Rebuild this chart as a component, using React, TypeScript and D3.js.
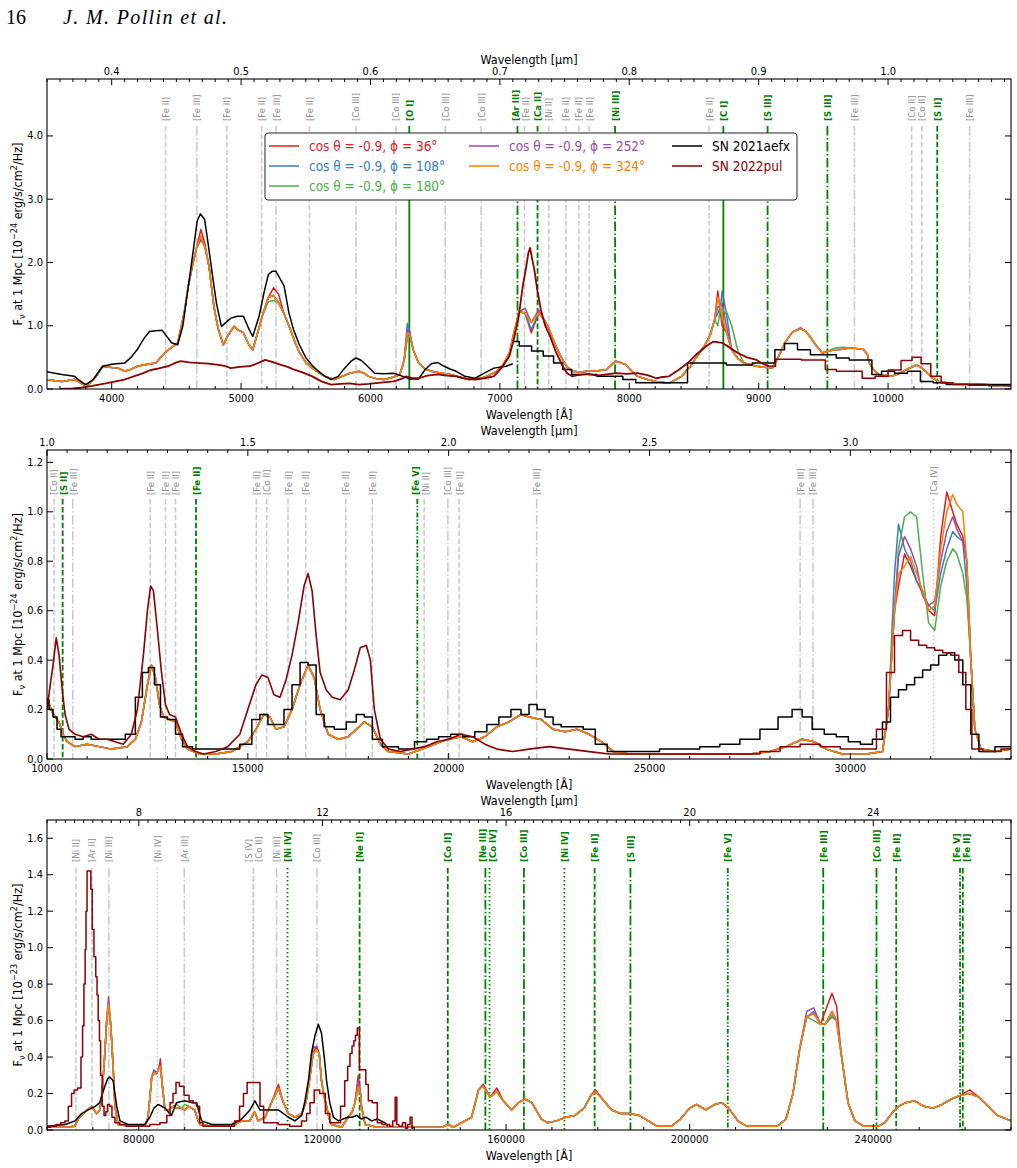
import React from 'react'
import * as d3 from 'd3'

type Pt = [number, number]
type LineId = [number, string, number]

const FONT = "'DejaVu Sans Condensed', 'DejaVu Sans', sans-serif"

const modelLabels = [
  'cos θ = -0.9, ϕ = 36°',
  'cos θ = -0.9, ϕ = 108°',
  'cos θ = -0.9, ϕ = 180°',
  'cos θ = -0.9, ϕ = 252°',
  'cos θ = -0.9, ϕ = 324°',
]
const modelColors = ['#e41a1c', '#377eb8', '#4daf4a', '#984ea3', '#ff7f00']
const obsLabels = ['SN 2021aefx', 'SN 2022pul']
const obsColors = ['#000000', '#8b0000']

// ---------- optical, Å vs 1e-24 erg/s/cm2/Hz ----------
// phi = 324 model, the others differ from it only around the listed peaks
const optModel: Pt[] = [
  [3480, 0.15], [3615, 0.12], [3712, 0.15], [3809, 0.04], [3880, 0.2], [3930, 0.36], [4000, 0.34], [4051, 0.33],
  [4100, 0.28], [4147, 0.31], [4200, 0.36], [4244, 0.38], [4300, 0.4], [4341, 0.41], [4400, 0.55], [4437, 0.62],
  [4510, 0.73], [4560, 1.2], [4592, 1.63], [4630, 2.0], [4655, 2.23], [4689, 2.42], [4720, 2.25], [4752, 1.94],
  [4790, 1.3], [4824, 0.94], [4863, 0.7], [4900, 0.85], [4945, 0.99], [4980, 0.93], [5018, 0.89], [5060, 0.7],
  [5090, 0.62], [5130, 0.9], [5163, 1.15], [5211, 1.45], [5250, 1.48], [5290, 1.36], [5330, 1.2], [5381, 0.94],
  [5420, 0.72], [5453, 0.57], [5500, 0.42], [5550, 0.33], [5600, 0.26], [5647, 0.2], [5719, 0.15], [5780, 0.2],
  [5840, 0.25], [5912, 0.28], [5950, 0.25], [5985, 0.2], [6050, 0.16], [6106, 0.15], [6180, 0.19], [6227, 0.23],
  [6260, 0.45], [6285, 0.89], [6305, 0.85], [6330, 0.62], [6372, 0.41], [6420, 0.32], [6469, 0.28], [6550, 0.25],
  [6614, 0.23], [6690, 0.19], [6759, 0.15], [6856, 0.17], [6920, 0.22], [6977, 0.28], [7030, 0.4], [7074, 0.57],
  [7110, 0.9], [7150, 1.22], [7194, 1.2], [7243, 1.05], [7300, 1.2], [7340, 1.1], [7380, 0.95], [7412, 0.78],
  [7450, 0.6], [7485, 0.46], [7520, 0.35], [7557, 0.28], [7620, 0.27], [7678, 0.28], [7760, 0.29], [7823, 0.31],
  [7896, 0.44], [7930, 0.42], [7968, 0.39], [8020, 0.28], [8065, 0.2], [8140, 0.15], [8210, 0.12], [8307, 0.09],
  [8404, 0.2], [8470, 0.35], [8525, 0.52], [8580, 0.68], [8622, 0.83], [8660, 1.1], [8684, 1.45], [8705, 1.3],
  [8718, 1.15], [8750, 0.9], [8791, 0.62], [8840, 0.48], [8887, 0.41], [8984, 0.36], [9105, 0.33], [9150, 0.5],
  [9202, 0.73], [9260, 0.9], [9323, 0.95], [9360, 0.92], [9395, 0.83], [9440, 0.7], [9492, 0.57], [9540, 0.6],
  [9589, 0.62], [9650, 0.63], [9710, 0.65], [9807, 0.63], [9840, 0.55], [9855, 0.41], [9890, 0.3], [9927, 0.23],
  [10024, 0.2], [10090, 0.25], [10145, 0.31], [10218, 0.38], [10250, 0.35], [10290, 0.28], [10340, 0.18],
  [10387, 0.12], [10532, 0.08], [10726, 0.07], [11000, 0.05],
]
const optRed: Pt[] = [[4689, 2.52], [4720, 2.3], [5250, 1.6], [5290, 1.5], [6285, 0.85], [7243, 0.89], [8684, 1.55], [8705, 1.2], [8718, 1.0]]
const optBlue: Pt[] = [[6285, 1.04], [6305, 0.9], [7243, 0.94], [8684, 1.2], [8718, 1.55], [8750, 1.2]]
const optGreen: Pt[] = [[4689, 2.35], [5211, 1.38], [5250, 1.4], [6285, 0.8], [8684, 1.0], [8718, 1.1], [8750, 1.23], [8791, 1.0], [8840, 0.6], [9589, 0.65], [9650, 0.66]]
const optPurple: Pt[] = [[4689, 2.38], [6285, 0.95], [7194, 1.28], [7300, 1.25], [8684, 1.3], [8718, 1.35], [8750, 1.0], [9323, 0.97]]

const optAefx: Pt[] = [
  [3480, 0.28], [3560, 0.25], [3615, 0.23], [3712, 0.2], [3760, 0.12], [3800, 0.07], [3857, 0.15], [3930, 0.36],
  [4000, 0.39], [4099, 0.41], [4150, 0.5], [4196, 0.62], [4250, 0.8], [4292, 0.91], [4340, 0.92], [4389, 0.93],
  [4430, 0.82], [4462, 0.73], [4510, 0.7], [4550, 1.0], [4582, 1.47], [4631, 2.2], [4660, 2.65], [4685, 2.77],
  [4718, 2.68], [4745, 2.3], [4776, 1.84], [4810, 1.35], [4848, 0.99], [4921, 1.12], [4970, 1.15], [5018, 1.15],
  [5060, 0.95], [5090, 0.83], [5139, 1.15], [5180, 1.55], [5211, 1.81], [5240, 1.86], [5269, 1.86], [5300, 1.75],
  [5332, 1.63], [5370, 1.2], [5405, 0.94], [5450, 0.7], [5502, 0.49], [5550, 0.37], [5598, 0.28], [5650, 0.2],
  [5695, 0.15], [5750, 0.2], [5792, 0.31], [5850, 0.44], [5888, 0.49], [5930, 0.45], [5961, 0.39], [6033, 0.25],
  [6100, 0.24], [6179, 0.25], [6251, 0.2], [6300, 0.16], [6372, 0.16], [6420, 0.3], [6470, 0.4], [6517, 0.42],
  [6560, 0.37], [6610, 0.32], [6662, 0.28], [6730, 0.2], [6807, 0.17], [6880, 0.25], [6953, 0.33], [7049, 0.36],
  [7100, 0.4],
]
const optAefxBinned: Pt[] = [
  [7100, 0.75], [7200, 0.68], [7290, 0.6], [7380, 0.52], [7450, 0.41], [7520, 0.31], [7590, 0.23], [7700, 0.23],
  [7800, 0.2], [7900, 0.2], [8000, 0.15], [8100, 0.1], [8200, 0.1], [8300, 0.1], [8400, 0.1], [8500, 0.41],
  [8600, 0.41], [8700, 0.41], [8800, 0.38], [8900, 0.38], [9000, 0.41], [9100, 0.41], [9150, 0.62], [9250, 0.72],
  [9350, 0.62], [9450, 0.54], [9550, 0.54], [9650, 0.49], [9750, 0.46], [9850, 0.46], [9900, 0.23], [10000, 0.28],
  [10100, 0.25], [10200, 0.28], [10300, 0.12], [10400, 0.1], [10500, 0.07], [10700, 0.07], [11000, 0.07],
]
const optPul: Pt[] = [
  [3600, 0.0], [3700, 0.01], [3760, 0.02], [3850, 0.05], [3954, 0.09], [4030, 0.12], [4099, 0.15], [4170, 0.2],
  [4244, 0.25], [4300, 0.3], [4350, 0.32], [4437, 0.36], [4500, 0.42], [4534, 0.44], [4600, 0.42], [4679, 0.41],
  [4750, 0.4], [4824, 0.38], [4880, 0.36], [4921, 0.33], [4990, 0.35], [5066, 0.36], [5120, 0.4], [5187, 0.46],
  [5240, 0.43], [5308, 0.38], [5360, 0.35], [5405, 0.31], [5480, 0.26], [5550, 0.2], [5620, 0.12], [5695, 0.07],
  [5770, 0.08], [5840, 0.09], [5910, 0.07], [5985, 0.08], [6080, 0.1], [6179, 0.12], [6240, 0.16], [6276, 0.2],
  [6330, 0.17], [6372, 0.17], [6440, 0.21], [6517, 0.23], [6590, 0.21], [6662, 0.2], [6740, 0.16], [6807, 0.15],
  [6880, 0.17], [6953, 0.2], [7020, 0.35], [7074, 0.52], [7110, 0.8], [7146, 1.15], [7175, 1.6], [7204, 1.94],
  [7220, 2.15], [7233, 2.23], [7250, 2.05], [7267, 1.88], [7290, 1.55], [7316, 1.26], [7350, 1.0], [7388, 0.83],
  [7430, 0.6], [7485, 0.36], [7520, 0.25], [7557, 0.2], [7600, 0.22], [7680, 0.24], [7750, 0.21], [7823, 0.23],
  [7900, 0.25], [7980, 0.24], [8065, 0.25], [8140, 0.22], [8210, 0.17], [8260, 0.19], [8307, 0.2], [8380, 0.3],
  [8452, 0.41], [8520, 0.55], [8597, 0.68], [8650, 0.75], [8718, 0.73], [8780, 0.65], [8839, 0.57], [8910, 0.5],
  [8984, 0.46], [9030, 0.4], [9081, 0.36],
]
const optPulBinned: Pt[] = [
  [9081, 0.36], [9180, 0.47], [9280, 0.47], [9380, 0.46], [9480, 0.46], [9550, 0.31], [9650, 0.28], [9750, 0.28],
  [9850, 0.17], [9950, 0.2], [10050, 0.3], [10150, 0.45], [10220, 0.5], [10290, 0.4], [10370, 0.2], [10450, 0.1],
  [10550, 0.07], [10700, 0.06], [10850, 0.05], [11000, 0.05],
]

// ---------- near infrared, Å vs 1e-24 ----------
const nirModel: Pt[] = [
  [10000, 0.25], [10100, 0.2], [10200, 0.17], [10300, 0.15], [10400, 0.1], [10500, 0.07], [10700, 0.05], [11000, 0.06],
  [11300, 0.05], [11600, 0.04], [12000, 0.05], [12200, 0.08], [12350, 0.15], [12500, 0.3], [12600, 0.38], [12700, 0.33],
  [12800, 0.22], [12900, 0.17], [13050, 0.16], [13200, 0.15], [13350, 0.08], [13500, 0.04], [13800, 0.02], [14200, 0.02],
  [14600, 0.03], [15000, 0.07], [15200, 0.12], [15400, 0.18], [15550, 0.17], [15700, 0.12], [15900, 0.13], [16100, 0.2],
  [16300, 0.3], [16500, 0.38], [16650, 0.33], [16800, 0.2], [17000, 0.1], [17250, 0.08], [17500, 0.09], [17700, 0.12],
  [17900, 0.15], [18100, 0.13], [18300, 0.06], [18500, 0.03], [19000, 0.02], [19500, 0.05], [19800, 0.07], [20000, 0.08],
  [20300, 0.09], [20600, 0.07], [20900, 0.09], [21200, 0.13], [21500, 0.15], [21800, 0.18], [22000, 0.17], [22300, 0.16],
  [22600, 0.12], [22900, 0.11], [23200, 0.12], [23500, 0.1], [23800, 0.07], [24100, 0.03], [24500, 0.02], [26000, 0.02],
  [27500, 0.02], [28000, 0.03], [28400, 0.05], [28800, 0.08], [29100, 0.07], [29400, 0.04], [29800, 0.02], [30400, 0.02],
  [30800, 0.03], [30950, 0.2], [31100, 0.6], [31200, 0.75], [31350, 0.78], [31500, 0.82], [31650, 0.75], [31800, 0.68],
  [31950, 0.6], [32100, 0.62], [32250, 0.85], [32400, 1.0], [32550, 1.07], [32650, 1.03], [32800, 1.0], [32900, 0.8],
  [33000, 0.4], [33100, 0.12], [33250, 0.04], [33600, 0.03], [34000, 0.04],
]
const nirRed: Pt[] = [[31200, 0.7], [31350, 0.83], [31500, 0.78], [31650, 0.72], [31800, 0.67], [31950, 0.6], [32100, 0.58], [32250, 0.9], [32400, 1.08], [32550, 1.0], [32650, 0.95], [32800, 0.9]]
const nirBlue: Pt[] = [[31100, 0.75], [31200, 0.95], [31350, 0.85], [31500, 0.8], [31650, 0.72], [31800, 0.68], [31950, 0.62], [32100, 0.6], [32250, 0.75], [32400, 0.85], [32550, 0.92], [32650, 0.9], [32800, 0.88], [32900, 0.7]]
const nirGreen: Pt[] = [[31200, 0.85], [31350, 0.98], [31500, 1.0], [31650, 0.98], [31800, 0.75], [31950, 0.55], [32100, 0.52], [32250, 0.7], [32400, 0.8], [32550, 0.85], [32650, 0.83], [32800, 0.75], [32900, 0.65]]
const nirPurple: Pt[] = [[31200, 0.82], [31350, 0.9], [31500, 0.85], [31650, 0.78], [31800, 0.66], [31950, 0.62], [32100, 0.64], [32250, 0.8], [32400, 0.92], [32550, 0.98], [32650, 0.93], [32800, 0.88]]

const nirAefx: Pt[] = [
  [10000, 0.24], [10100, 0.2], [10200, 0.17], [10300, 0.12], [10400, 0.09], [10600, 0.09], [10800, 0.08], [11000, 0.09],
  [11200, 0.08], [11500, 0.08], [11800, 0.08], [12100, 0.1], [12300, 0.25], [12450, 0.35], [12600, 0.37], [12750, 0.3],
  [12900, 0.17], [13100, 0.16], [13300, 0.1], [13450, 0.05], [13800, 0.04], [14200, 0.04], [14600, 0.04], [15000, 0.06],
  [15200, 0.16], [15400, 0.18], [15600, 0.14], [15800, 0.14], [16000, 0.2], [16200, 0.3], [16400, 0.39], [16600, 0.38],
  [16800, 0.18], [17000, 0.13], [17300, 0.12], [17600, 0.15], [17800, 0.18], [18000, 0.17], [18200, 0.08], [18500, 0.05],
  [19000, 0.04], [19300, 0.07], [19600, 0.08], [19900, 0.09], [20200, 0.1], [20500, 0.09], [20800, 0.11], [21100, 0.14],
  [21400, 0.17], [21700, 0.2], [21900, 0.18], [22100, 0.22], [22300, 0.2], [22500, 0.17], [22700, 0.14], [22900, 0.13],
  [23200, 0.13], [23500, 0.12], [23800, 0.06], [24100, 0.03], [24500, 0.03], [25000, 0.03], [25500, 0.04], [26000, 0.04],
  [26500, 0.05], [27000, 0.06], [27500, 0.08], [28000, 0.12], [28400, 0.17], [28700, 0.2], [28900, 0.17], [29200, 0.12],
  [29500, 0.1], [29800, 0.09], [30100, 0.07], [30400, 0.06], [30700, 0.08], [30900, 0.15], [31100, 0.25], [31300, 0.28],
  [31500, 0.3], [31700, 0.33], [31900, 0.36], [32100, 0.38], [32300, 0.42], [32500, 0.43], [32700, 0.4], [32900, 0.3],
  [33100, 0.1], [33300, 0.03], [33500, 0.03], [33700, 0.05], [34000, 0.05],
]
const nirPul: Pt[] = [
  [10000, 0.2], [10080, 0.3], [10150, 0.38], [10230, 0.49], [10300, 0.42], [10380, 0.28], [10450, 0.18], [10550, 0.12],
  [10700, 0.1], [10900, 0.09], [11100, 0.1], [11300, 0.08], [11500, 0.08], [11700, 0.07], [11900, 0.06], [12100, 0.1],
  [12250, 0.2], [12400, 0.42], [12500, 0.6], [12580, 0.7], [12650, 0.68], [12750, 0.52], [12850, 0.35], [12950, 0.22],
  [13050, 0.18], [13200, 0.17], [13350, 0.1], [13500, 0.05], [13700, 0.03], [13900, 0.02], [14200, 0.03], [14500, 0.05],
  [14800, 0.1], [15000, 0.2], [15200, 0.3], [15350, 0.34], [15500, 0.33], [15650, 0.26], [15800, 0.25], [15950, 0.32],
  [16100, 0.42], [16250, 0.55], [16400, 0.7], [16500, 0.75], [16600, 0.68], [16700, 0.5], [16800, 0.35], [16950, 0.28],
  [17100, 0.25], [17300, 0.24], [17500, 0.28], [17650, 0.36], [17800, 0.45], [17950, 0.46], [18050, 0.4], [18150, 0.2],
  [18300, 0.08], [18500, 0.04], [18800, 0.03], [19100, 0.04], [19400, 0.05], [19700, 0.07], [20000, 0.08], [20300, 0.1],
  [20600, 0.09], [20900, 0.06], [21200, 0.04], [21600, 0.03], [22000, 0.04], [22500, 0.05], [23000, 0.04], [23500, 0.03],
  [24000, 0.02], [24500, 0.02],
]
const nirPulBinned: Pt[] = [
  [24500, 0.02], [25500, 0.02], [26500, 0.02], [27500, 0.02], [28000, 0.03], [28500, 0.05], [29000, 0.06], [29500, 0.05],
  [30000, 0.04], [30500, 0.04], [30800, 0.12], [31000, 0.35], [31200, 0.5], [31400, 0.52], [31600, 0.48], [31800, 0.46],
  [32000, 0.45], [32200, 0.44], [32400, 0.43], [32600, 0.42], [32800, 0.35], [32950, 0.2], [33100, 0.04], [33500, 0.03],
  [34000, 0.04],
]

// ---------- mid infrared, Å vs 1e-23 ----------
const mirModel: Pt[] = [
  [60000, 0.015], [64000, 0.015], [66000, 0.02], [66800, 0.06], [68300, 0.1], [69700, 0.13], [70800, 0.09], [71500, 0.11],
  [72000, 0.2], [72600, 0.42], [73000, 0.6], [73400, 0.69], [73800, 0.6], [74100, 0.49], [74500, 0.3], [74800, 0.13],
  [75500, 0.03], [78000, 0.02], [81300, 0.02], [82000, 0.07], [82500, 0.2], [82800, 0.29], [83300, 0.31], [83900, 0.31],
  [84400, 0.34], [84700, 0.35], [85100, 0.25], [85700, 0.11], [86500, 0.11], [87500, 0.13], [88300, 0.12], [89300, 0.12],
  [90000, 0.11], [90800, 0.13], [91500, 0.12], [92200, 0.11], [92800, 0.06], [93300, 0.03], [96000, 0.02], [100200, 0.02],
  [102400, 0.05], [104200, 0.05], [105200, 0.1], [106000, 0.05], [107500, 0.07], [108900, 0.15], [110400, 0.23],
  [111500, 0.15], [112600, 0.09], [114000, 0.07], [115500, 0.09], [116400, 0.15], [117000, 0.24], [117600, 0.35],
  [118000, 0.42], [118700, 0.44], [119300, 0.42], [119800, 0.27], [120400, 0.18], [120900, 0.13], [121500, 0.06],
  [122000, 0.03], [124200, 0.015], [125600, 0.07], [126500, 0.1], [127100, 0.15], [127800, 0.24], [128300, 0.2],
  [128500, 0.13], [129300, 0.03], [132000, 0.015], [146000, 0.015], [147400, 0.03], [148500, 0.015], [152500, 0.07],
  [154000, 0.22], [155000, 0.24], [156500, 0.18], [158000, 0.21], [159400, 0.16], [161200, 0.11], [162700, 0.15],
  [164100, 0.17], [165600, 0.15], [167700, 0.06], [169000, 0.04], [171000, 0.05], [173000, 0.07], [175000, 0.08],
  [177000, 0.12], [178500, 0.19], [179500, 0.21], [181000, 0.17], [183000, 0.11], [185000, 0.09], [187000, 0.09],
  [189000, 0.08], [191000, 0.05], [193000, 0.02], [196000, 0.02], [198000, 0.06], [200000, 0.12], [201500, 0.14],
  [203500, 0.11], [205500, 0.14], [207000, 0.15], [208500, 0.12], [210500, 0.05], [212500, 0.02], [219000, 0.02],
  [221000, 0.06], [222500, 0.2], [224000, 0.45], [225500, 0.62], [227000, 0.64], [228500, 0.58], [229500, 0.58],
  [231000, 0.65], [232000, 0.6], [233000, 0.42], [234500, 0.15], [236000, 0.05], [238000, 0.02], [241000, 0.02],
  [242500, 0.04], [244000, 0.09], [245500, 0.13], [247000, 0.15], [249000, 0.16], [251000, 0.13], [253000, 0.12],
  [255000, 0.14], [257000, 0.17], [259000, 0.19], [261000, 0.2], [263000, 0.18], [265000, 0.13], [267000, 0.08],
  [270000, 0.05],
]
const mirRed: Pt[] = [[73400, 0.68], [84700, 0.39], [110400, 0.25], [118700, 0.46], [127800, 0.3], [155000, 0.25], [158000, 0.23], [179500, 0.22], [229500, 0.65], [231000, 0.75], [232000, 0.68], [261000, 0.22]]
const mirBlue: Pt[] = [[127800, 0.25], [227000, 0.65], [231000, 0.62]]
const mirGreen: Pt[] = [[73400, 0.7], [88300, 0.14], [90000, 0.14], [127800, 0.22], [227000, 0.6], [231000, 0.63]]
const mirPurple: Pt[] = [[73400, 0.73], [83300, 0.33], [84400, 0.35], [118000, 0.46], [127800, 0.27], [155000, 0.25], [225500, 0.65], [227000, 0.67]]

const mirAefx: Pt[] = [
  [60000, 0.02], [64000, 0.03], [66100, 0.05], [67500, 0.09], [69000, 0.11], [70500, 0.13], [71500, 0.15], [72600, 0.24],
  [73200, 0.28], [73700, 0.29], [74400, 0.27], [74800, 0.2], [75200, 0.13], [75900, 0.05], [77700, 0.03], [81300, 0.03],
  [82400, 0.07], [83300, 0.12], [84200, 0.14], [85000, 0.13], [85700, 0.12], [87100, 0.08], [88200, 0.15], [90000, 0.16],
  [91500, 0.15], [92600, 0.15], [93100, 0.1], [93700, 0.05], [95900, 0.03], [100200, 0.03], [102400, 0.06], [104200, 0.11],
  [105300, 0.16], [106400, 0.11], [107500, 0.11], [109000, 0.11], [110400, 0.11], [112600, 0.07], [114000, 0.05],
  [115500, 0.08], [116200, 0.16], [117000, 0.28], [117600, 0.42], [118400, 0.52], [119100, 0.58], [119800, 0.53],
  [120400, 0.4], [120900, 0.27], [121600, 0.15], [122400, 0.07], [123500, 0.05], [124500, 0.06], [125500, 0.07],
  [126400, 0.07], [127500, 0.08], [128500, 0.06], [129500, 0.07], [130700, 0.05], [132000, 0.06], [133600, 0.04],
  [134300, 0.02],
]
const mirPul: Pt[] = [
  [60000, 0.015], [61500, 0.02], [62500, 0.03], [63500, 0.04], [64300, 0.05], [65000, 0.13], [65700, 0.2], [66100, 0.22],
  [67200, 0.23], [67600, 0.4], [67900, 0.57], [68200, 0.8], [68400, 0.99], [68600, 1.2], [68850, 1.42], [69400, 1.42],
  [69700, 1.32], [70000, 1.1], [70450, 0.95], [70800, 0.84], [71000, 0.74], [71300, 0.6], [71550, 0.49], [71800, 0.3],
  [72250, 0.13], [72600, 0.08], [73000, 0.1], [73350, 0.14], [73900, 0.13], [74400, 0.07], [75200, 0.04], [76500, 0.03],
  [78000, 0.02], [81300, 0.02], [83500, 0.03], [85700, 0.04], [86500, 0.08], [87100, 0.15], [87800, 0.2], [88400, 0.26],
  [89300, 0.24], [90400, 0.19], [91500, 0.16], [92200, 0.15], [92900, 0.13], [93600, 0.04], [94400, 0.02], [100200, 0.02],
  [101500, 0.05], [102400, 0.13], [103200, 0.2], [104000, 0.26], [106000, 0.26], [106800, 0.13], [107600, 0.04],
  [109600, 0.04], [111100, 0.03], [114700, 0.02], [116200, 0.05], [116900, 0.09], [117700, 0.15], [118700, 0.22],
  [120100, 0.2], [121200, 0.09], [122000, 0.04], [123400, 0.04], [124500, 0.13], [125200, 0.27], [125800, 0.35],
  [126200, 0.42], [126700, 0.46], [127000, 0.49], [127400, 0.52], [127800, 0.56], [128300, 0.33], [129200, 0.33],
  [129700, 0.25], [130300, 0.16], [131400, 0.15], [132500, 0.04], [133500, 0.03], [134300, 0.03], [135000, 0.02],
  [135600, 0.05], [136100, 0.18], [136300, 0.03], [137000, 0.02], [137900, 0.04], [138300, 0.01], [138800, 0.03],
  [139400, 0.07], [139600, 0.01], [139800, 0.02],
]

// ---------- line identifications: wavelength (Å), label, highlighted ----------
const optLines: LineId[] = [
  [4416, '[Fe II]', 0], [4658, '[Fe III]', 0], [4890, '[Fe II]', 0], [5159, '[Fe II]', 0], [5270, '[Fe III]', 0],
  [5528, '[Fe II]', 0], [5888, '[Co III]', 0], [6197, '[Co III]', 0], [6300, '[O I]', 1], [6578, '[Co III]', 0],
  [6855, '[Co III]', 0], [7136, '[Ar III]', 1], [7190, '[Fe II]', 0], [7291, '[Ca II]', 1], [7378, '[Ni II]', 0],
  [7510, '[Fe II]', 0], [7610, '[Fe II]', 0], [7690, '[Fe II]', 0], [7890, '[Ni III]', 1], [8617, '[Fe II]', 0],
  [8727, '[C I]', 1], [9069, '[S III]', 1], [9531, '[S III]', 1], [9740, '[Fe III]', 0], [10183, '[Co II]', 0],
  [10261, '[Co II]', 0], [10380, '[S II]', 1], [10630, '[Fe III]', 0],
]
const nirLines: LineId[] = [
  [10175, '[Co II]', 0], [10390, '[S II]', 1], [10640, '[Fe III]', 0], [12570, '[Fe II]', 0], [12950, '[Fe II]', 0],
  [13200, '[Fe II]', 0], [13710, '[Fe II]', 1], [15210, '[Fe II]', 0], [15470, '[Co II]', 0], [16000, '[Fe II]', 0],
  [16440, '[Fe II]', 0], [17440, '[Fe II]', 0], [18100, '[Fe II]', 0], [19220, '[Fe V]', 1], [19390, '[Ni II]', 0],
  [19980, '[Co III]', 0], [20260, '[Fe II]', 0], [22190, '[Fe III]', 0], [28750, '[Fe III]', 0], [29070, '[Fe III]', 0],
  [32070, '[Ca IV]', 0],
]
const mirLines: LineId[] = [
  [66300, '[Ni II]', 0], [69800, '[Ar II]', 0], [73480, '[Ni III]', 0], [84000, '[Ni IV]', 0], [89900, '[Ar III]', 0],
  [104900, '[S IV]', 0], [105000, '[Co II]', 0], [110000, '[Ni III]', 0], [112400, '[Ni IV]', 1], [118800, '[Co III]', 0],
  [128100, '[Ne II]', 1], [147300, '[Co II]', 1], [155500, '[Ne III]', 1], [156400, '[Co IV]', 1], [163900, '[Co III]', 1],
  [172700, '[Ni IV]', 1], [179300, '[Fe II]', 1], [187100, '[S III]', 1], [208300, '[Fe V]', 1], [229100, '[Fe III]', 1],
  [240700, '[Co III]', 1], [245000, '[Fe II]', 1], [258900, '[Fe V]', 1], [259500, '[Fe II]', 1],
]

const withPeaks = (base: Pt[], peaks: Pt[]): Pt[] => {
  const m = new Map<number, number>(base)
  peaks.forEach(([w, f]) => m.set(w, f))
  return Array.from(m.entries()).sort((a, b) => a[0] - b[0])
}

type Series = { data: Pt[]; color: string; step?: boolean; width?: number }

const modelSeries = (base: Pt[], peaks: Pt[][]): Series[] =>
  [...peaks, []].map((p, i) => ({ data: withPeaks(base, p), color: modelColors[i] }))

// dash pattern by ionisation stage
const DASH: Record<string, string | undefined> = {
  I: undefined,
  II: '5.5,2.4',
  III: '9.6,2.4,1.5,2.4',
  IV: '1.5,2.5',
  V: '5,1.8,1.5,1.8,1.5,1.8',
}

const L = 47
const R = 1011

const panels = [
  {
    key: 'opt', top: 79, bottom: 389, xDomain: [3500, 10950], yMax: 4.9, yTicks: [0, 1, 2, 3, 4],
    bMajor: 1000, bMinor: 200, tMajor: 0.1, tMinor: 0.01, tFmt: '.1f', exp: '−24', labelY: 42, lineY: 47,
    lines: optLines,
    series: [
      ...modelSeries(optModel, [optRed, optBlue, optGreen, optPurple]),
      { data: optAefx, color: obsColors[0] },
      { data: optAefxBinned, color: obsColors[0], step: true },
      { data: optPul, color: obsColors[1], width: 1.8 },
      { data: optPulBinned, color: obsColors[1], step: true },
    ] as Series[],
  },
  {
    key: 'nir', top: 450, bottom: 759, xDomain: [10000, 34000], yMax: 1.25, yTicks: [0, 0.2, 0.4, 0.6, 0.8, 1.0, 1.2],
    bMajor: 5000, bMinor: 1000, tMajor: 0.5, tMinor: 0.05, tFmt: '.1f', exp: '−24', labelY: 45, lineY: 49,
    lines: nirLines,
    series: [
      ...modelSeries(nirModel, [nirRed, nirBlue, nirGreen, nirPurple]),
      { data: nirAefx, color: obsColors[0], step: true },
      { data: nirPul, color: obsColors[1], width: 1.6 },
      { data: nirPulBinned, color: obsColors[1], step: true },
    ] as Series[],
  },
  {
    key: 'mir', top: 820, bottom: 1130, xDomain: [60000, 270000], yMax: 1.7, yTicks: [0, 0.2, 0.4, 0.6, 0.8, 1.0, 1.2, 1.4, 1.6],
    bMajor: 40000, bMinor: 10000, tMajor: 4, tMinor: 0.2, tFmt: 'd', exp: '−23', labelY: 42, lineY: 48,
    lines: mirLines,
    series: [
      ...modelSeries(mirModel, [mirRed, mirBlue, mirGreen, mirPurple]),
      { data: mirAefx, color: obsColors[0] },
      { data: mirPul, color: obsColors[1], step: true },
    ] as Series[],
  },
]

type PanelCfg = (typeof panels)[number]

// tick values that are multiples of step inside [lo, hi]
const multiples = (lo: number, hi: number, step: number) => {
  const out: number[] = []
  for (let i = Math.ceil(lo / step - 1e-9); i <= Math.floor(hi / step + 1e-9); i++) out.push(+(i * step).toFixed(6))
  return out
}
const notIn = (majors: number[]) => (v: number) => !majors.some((m) => Math.abs(m - v) < 1e-6)

// push overlapping labels apart, keeping them near their lines
const spread = (xs: number[], gap: number) => {
  const out = xs.slice()
  for (let it = 0; it < 60; it++) {
    for (let i = 1; i < out.length; i++) {
      const d = out[i] - out[i - 1]
      if (d < gap) {
        const o = (gap - d) / 2
        out[i - 1] -= o
        out[i] += o
      }
    }
  }
  return out
}

function YTitle({ cx, cy, exp }: { cx: number; cy: number; exp: string }) {
  return (
    <text transform={`translate(${cx},${cy}) rotate(-90)`} textAnchor="middle" fontSize={12.5} fill="#000">
      F<tspan fontSize={9} dy={3}>ν</tspan>
      <tspan dy={-3}>{' at 1 Mpc [10'}</tspan>
      <tspan fontSize={9} dy={-5}>{exp}</tspan>
      <tspan dy={5}>{' erg/s/cm'}</tspan>
      <tspan fontSize={9} dy={-5}>2</tspan>
      <tspan dy={5}>{'/Hz]'}</tspan>
    </text>
  )
}

function Legend() {
  const cols = [269, 469, 672]
  const rows = [146, 166, 186]
  const items = [
    ...modelLabels.map((t, i) => ({ t, c: modelColors[i] })),
    ...obsLabels.map((t, i) => ({ t, c: obsColors[i] })),
  ]
  const slots = [[0, 0], [0, 1], [0, 2], [1, 0], [1, 1], [2, 0], [2, 1]]
  return (
    <g>
      <rect x={265} y={133} width={532} height={67} rx={3} fill="#fff" stroke="#222" strokeWidth={1} />
      {items.map((it, i) => {
        const [c, r] = slots[i]
        const x0 = cols[c]
        const yy = rows[r]
        return (
          <g key={i}>
            <line x1={x0} x2={x0 + 30} y1={yy} y2={yy} stroke={it.c} strokeWidth={1.5} />
            <text x={x0 + 40} y={yy} dominantBaseline="central" fontSize={13.5} fill={it.c}>{it.t}</text>
          </g>
        )
      })}
    </g>
  )
}

function Panel({ p, legend }: { p: PanelCfg; legend?: boolean }) {
  const x = d3.scaleLinear().domain(p.xDomain).range([L, R])
  const y = d3.scaleLinear().domain([0, p.yMax]).range([p.bottom, p.top])
  const um = d3.scaleLinear().domain([p.xDomain[0] / 1e4, p.xDomain[1] / 1e4]).range([L, R])
  const clipId = `clip-${p.key}`

  const path = (s: Series) =>
    d3.line<Pt>().x((d) => x(d[0])).y((d) => y(d[1])).curve(s.step ? d3.curveStep : d3.curveLinear)(s.data) || ''

  const bMaj = multiples(p.xDomain[0], p.xDomain[1], p.bMajor)
  const bMin = multiples(p.xDomain[0], p.xDomain[1], p.bMinor).filter(notIn(bMaj))
  const tMaj = multiples(p.xDomain[0] / 1e4, p.xDomain[1] / 1e4, p.tMajor)
  const tMin = multiples(p.xDomain[0] / 1e4, p.xDomain[1] / 1e4, p.tMinor).filter(notIn(tMaj))
  const tFmt = d3.format(p.tFmt)
  const yFmt = d3.format('.1f')

  const ids = p.lines
    .map(([w, lab, hi]) => ({ x: x(w), lab, hi: hi === 1, ion: (lab.match(/\s([IV]+)\]/) || ['', 'II'])[1] }))
    .sort((a, b) => a.x - b.x)
  const lx = spread(ids.map((d) => d.x), 10)

  const MAJ = 6
  const MIN = 3

  return (
    <g>
      <defs>
        <clipPath id={clipId}>
          <rect x={L} y={p.top} width={R - L} height={p.bottom - p.top} />
        </clipPath>
      </defs>

      {/* line identifications */}
      {ids.map((d, i) => (
        <g key={'id' + i}>
          <line
            x1={d.x} x2={d.x} y1={p.top + p.lineY} y2={p.bottom}
            stroke={d.hi ? '#008000' : '#c8c8c8'} strokeWidth={d.hi ? 1.8 : 1.5}
            strokeDasharray={DASH[d.ion]}
          />
          <text
            transform={`translate(${lx[i]},${p.top + p.labelY}) rotate(-90)`}
            dominantBaseline="central" fontSize={9.5}
            fill={d.hi ? '#008000' : '#8c8c8c'} fontWeight={d.hi ? 'bold' : 'normal'}
          >{d.lab}</text>
        </g>
      ))}

      {/* spectra */}
      <g clipPath={`url(#${clipId})`}>
        {p.series.map((s, i) => (
          <path key={'s' + i} d={path(s)} fill="none" stroke={s.color} strokeWidth={s.width ?? 1.5} strokeLinejoin="round" />
        ))}
      </g>

      {legend && <Legend />}

      {/* frame and ticks */}
      <rect x={L} y={p.top} width={R - L} height={p.bottom - p.top} fill="none" stroke="#000" strokeWidth={1.1} />
      {bMaj.map((v) => (
        <g key={'bM' + v}>
          <line x1={x(v)} x2={x(v)} y1={p.bottom} y2={p.bottom - MAJ} stroke="#000" />
          <text x={x(v)} y={p.bottom + 9} textAnchor="middle" dominantBaseline="central" fontSize={11}>{v}</text>
        </g>
      ))}
      {bMin.map((v) => (
        <line key={'bm' + v} x1={x(v)} x2={x(v)} y1={p.bottom} y2={p.bottom - MIN} stroke="#000" />
      ))}
      {tMaj.map((v) => (
        <g key={'tM' + v}>
          <line x1={um(v)} x2={um(v)} y1={p.top} y2={p.top + MAJ} stroke="#000" />
          <text x={um(v)} y={p.top - 8} textAnchor="middle" dominantBaseline="central" fontSize={11}>{tFmt(v)}</text>
        </g>
      ))}
      {tMin.map((v) => (
        <line key={'tm' + v} x1={um(v)} x2={um(v)} y1={p.top} y2={p.top + MIN} stroke="#000" />
      ))}
      {p.yTicks.map((v) => (
        <g key={'y' + v}>
          <line x1={L} x2={L + MAJ} y1={y(v)} y2={y(v)} stroke="#000" />
          <line x1={R} x2={R - MAJ} y1={y(v)} y2={y(v)} stroke="#000" />
          <text x={L - 4} y={y(v)} textAnchor="end" dominantBaseline="central" fontSize={11}>{yFmt(v)}</text>
        </g>
      ))}

      <text x={(L + R) / 2} y={p.bottom + 25} textAnchor="middle" dominantBaseline="central" fontSize={12.5}>Wavelength [Å]</text>
      <text x={(L + R) / 2} y={p.top - 20} textAnchor="middle" dominantBaseline="central" fontSize={12.5}>Wavelength [μm]</text>
      <YTitle cx={22} cy={(p.top + p.bottom) / 2} exp={p.exp} />
    </g>
  )
}

export default function App() {
  return (
    <svg
      width={1017}
      height={1168}
      style={{ position: 'absolute', left: 0, top: 0, background: '#fff' }}
      fontFamily={FONT}
      fontStretch="condensed"
    >
      <rect width={1017} height={1168} fill="#fff" />
      <text x={6} y={24} fontFamily="'Liberation Serif', 'DejaVu Serif', serif" fontSize={20}>16</text>
      <text
        x={63} y={24} fontFamily="'Liberation Serif', 'DejaVu Serif', serif" fontSize={20} fontStyle="italic"
        textLength={164} lengthAdjust="spacing"
      >J. M. Pollin et al.</text>
      {panels.map((p, i) => (
        <Panel key={p.key} p={p} legend={i === 0} />
      ))}
    </svg>
  )
}
